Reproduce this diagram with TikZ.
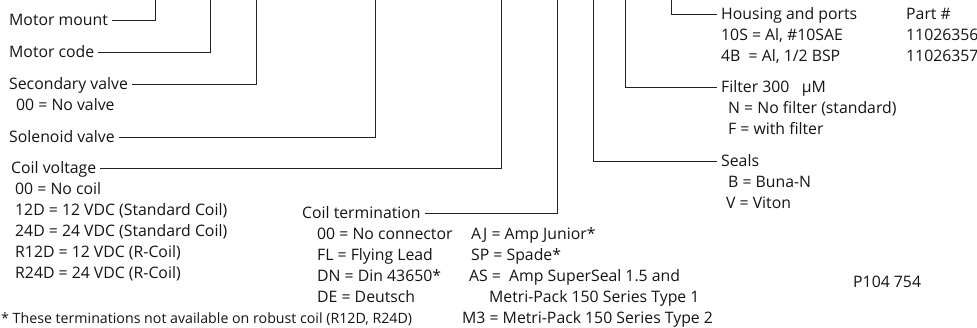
\documentclass[tikz,border=0pt]{standalone}
\usepackage{fontspec}
\setmainfont{Open Sans}
\usetikzlibrary{positioning}
\definecolor{textblack}{HTML}{141414}
\definecolor{leadblack}{HTML}{222222}
\tikzset{
  heading/.style={
    anchor=west, inner xsep=4pt, inner ysep=1pt,
    text height=11.2pt, text depth=0pt,
    font=\fontsize{15.8}{18}\selectfont, text=textblack
  },
  choice/.style={heading},
  remark/.style={heading, font=\fontsize{14.2}{17}\selectfont},
  leader/.style={draw=leadblack, line width=0.9pt}
}
\newcommand{\leadup}[2]{\draw[leader] (#1.east) -| (#2);}
\newcommand{\leaddown}[2]{\draw[leader] (#1) |- (#2.west);}

\begin{document}
\begin{tikzpicture}[x=1pt,y=-1pt]
\useasboundingbox (0,0) rectangle (977,327);
% upper ends of the leaders
\coordinate (mounttop) at (155,0);
\coordinate (codetop) at (210,0);
\coordinate (sectop) at (256,0);
\coordinate (soltop) at (375,0);
\coordinate (volttop) at (501,0);
\coordinate (termtop) at (557,0);
\coordinate (sealtop) at (593,0);
\coordinate (filtertop) at (625,0);
\coordinate (housetop) at (671,0);
% left side
\node[heading] (mount) at (5,20) {Motor mount};
\node[heading] (motorcode) at (5,52) {Motor code};
\node[heading] (secvalve) at (5,84) {Secondary valve};
\node[choice] (novalve) at (12,105) {00 = No valve};
\node[heading] (solvalve) at (5,137) {Solenoid valve};
\node[heading] (coilvolt) at (7,168) {Coil voltage};
\node[choice] (nocoil) at (11,189) {00 = No coil};
\node[choice] (std12) at (11,210) {12D = 12 VDC (Standard Coil)};
\node[choice] (std24) at (11,231) {24D = 24 VDC (Standard Coil)};
\node[choice] (rcoil12) at (11,252) {R12D = 12 VDC (R-Coil)};
\node[choice] (rcoil24) at (11,273) {R24D = 24 VDC (R-Coil)};
\node[remark] (footnote) at (-3,318) {* These terminations not available on robust coil (R12D, R24D)};
% coil termination
\node[heading] (coilterm) at (298,213) {Coil termination};
\node[choice] (noconn) at (313,234) {00 = No connector};
\node[choice] (flying) at (313,255) {FL = Flying Lead};
\node[choice] (din) at (313,276) {DN = Din 43650*};
\node[choice] (deutsch) at (313,297) {DE = Deutsch};
\node[choice] (ampjr) at (467,234) {AJ = Amp Junior*};
\node[choice] (spade) at (467,255) {SP = Spade*};
\node[choice] (superseal) at (465,276) {AS =\ \ Amp SuperSeal 1.5 and};
\node[choice] (metri1) at (485,297) {Metri-Pack 150 Series Type 1};
\node[choice] (metri2) at (458,318) {M3 = Metri-Pack 150 Series Type 2};
% right side
\node[heading] (housing) at (717,14) {Housing and ports};
\node[choice] (sae) at (717,35) {10S = Al, \#10SAE};
\node[choice] (bsp) at (717,56) {4B\ \ = Al, 1/2 BSP};
\node[heading] (partno) at (902,14) {Part \#};
\node[choice] (partsae) at (902,35) {11026356};
\node[choice] (partbsp) at (902,56) {11026357};
\node[heading] (filter) at (717,87) {Filter 300\ \ \ µM};
\node[choice] (nofilter) at (724,108) {N = No filter (standard)};
\node[choice] (withfilter) at (724,129) {F = with filter};
\node[heading] (seals) at (717,161) {Seals};
\node[choice] (buna) at (724,182) {B = Buna-N};
\node[choice] (viton) at (722,203) {V = Viton};
\node[choice] (drawno) at (849,282) {P104 754};
% leaders
\leadup{mount}{mounttop}
\leadup{motorcode}{codetop}
\leadup{secvalve}{sectop}
\leadup{solvalve}{soltop}
\leadup{coilvolt}{volttop}
\leadup{coilterm}{termtop}
\leaddown{sealtop}{seals}
\leaddown{filtertop}{filter}
\leaddown{housetop}{housing}
\end{tikzpicture}
\end{document}
